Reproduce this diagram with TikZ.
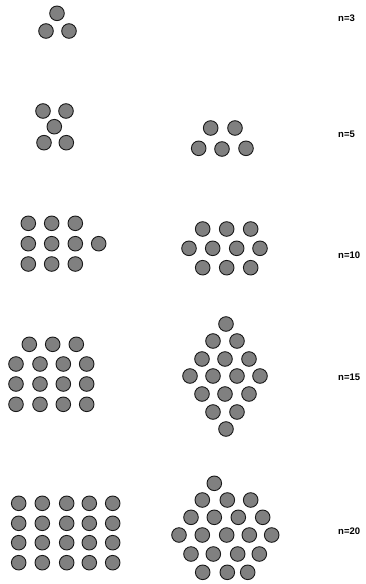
\documentclass[tikz,border=0pt]{standalone}
\usepackage{fontspec}
\setmainfont{Liberation Sans}
\begin{document}
\begin{tikzpicture}[x=1pt, y=-1pt, every node/.style={font=\bfseries\fontsize{9.5}{11}\selectfont, anchor=west, inner sep=0pt}]
\tikzset{disc/.style={draw=black!90, fill=gray, line width=0.9pt}}
\useasboundingbox (0,0) rectangle (366,584);
% n=3
\foreach \x/\y in {57/13.3, 46/31, 69/31} \draw[disc] (\x,\y) circle (7.3);
\node (lab3) at (338,18) {n=3};
% n=5
\foreach \x/\y in {43/111, 66/111, 54.3/126.7, 44/142.7, 66.3/142.7} \draw[disc] (\x,\y) circle (7.3);
\foreach \x/\y in {210.7/128, 235/128, 198.7/148.3, 222/149, 246/148.3} \draw[disc] (\x,\y) circle (7.3);
\node (lab5) at (338,134) {n=5};
% n=10
\foreach \y in {223.3, 243.7, 264} \foreach \x in {28.3, 51.7, 75.3} \draw[disc] (\x,\y) circle (7.3);
\draw[disc] (98.7,243.7) circle (7.3);
\foreach \x in {202.7, 226.7, 250.7} {\draw[disc] (\x,229) circle (7.3); \draw[disc] (\x,267.7) circle (7.3);}
\foreach \x in {189, 212.7, 236.7, 260} \draw[disc] (\x,248.3) circle (7.3);
\node (lab10) at (338,255) {n=10};
% n=15
\foreach \x in {29.3, 52.7, 76.3} \draw[disc] (\x,344.3) circle (7.3);
\foreach \y in {364, 384, 404.3} \foreach \x in {16, 40, 63.3, 86.7} \draw[disc] (\x,\y) circle (7.3);
\foreach \x/\y in {226/324, 213/341, 237/341, 202/359, 225/359, 249/359, 190/376, 213/376, 237/376, 260/376,
  202/394, 225/394, 249/394, 213/412, 237/412, 226/429} \draw[disc] (\x,\y) circle (7.3);
\node (lab15) at (338,377) {n=15};
% n=20
\foreach \y in {503.3, 523.3, 542.7, 562.7} \foreach \x in {18.7, 42.3, 66.7, 89.3, 112.7} \draw[disc] (\x,\y) circle (7.3);
\foreach \x/\y in {214.3/483.3, 202.3/500, 227.3/500, 250.7/500, 191/517.3, 214.3/517.3, 238.3/517.3, 262.7/517.3,
  179/535, 202.3/535, 226.7/535, 249.3/535, 271.7/535, 191/554, 213.3/554, 237.7/554, 259.3/554,
  202.7/572.3, 227.3/572.3, 247.7/572.3} \draw[disc] (\x,\y) circle (7.3);
\node (lab20) at (338,531) {n=20};
\end{tikzpicture}
\end{document}
